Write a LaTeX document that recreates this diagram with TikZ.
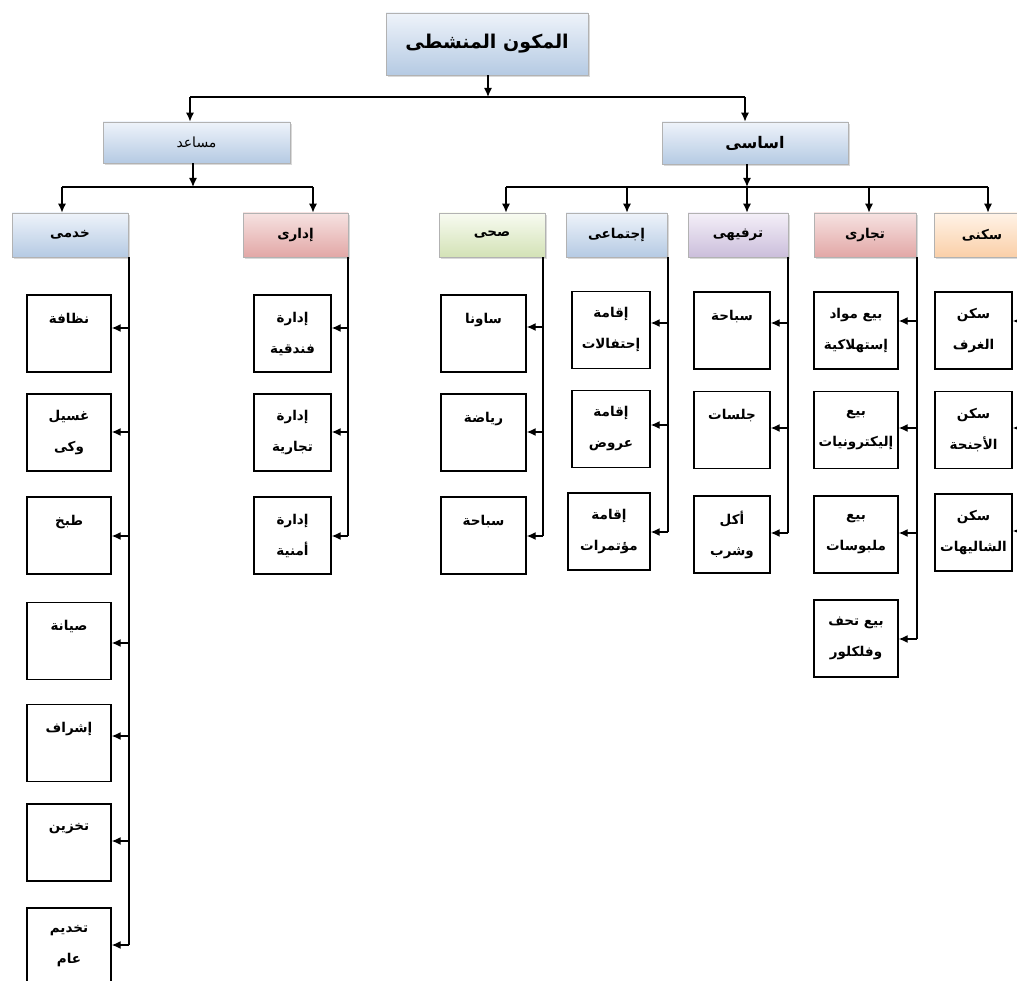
\documentclass[tikz,border=0pt]{standalone}
\usepackage{fontspec}
\newfontfamily\arabicfont[Script=Arabic]{DejaVu Sans}
\TeXXeTstate=1
\usetikzlibrary{arrows.meta,shadows}
\newcommand\artxt[1]{\beginR#1\endR}
\definecolor{blueT}{HTML}{EEF3FA}\definecolor{blueB}{HTML}{B5CAE3}
\definecolor{redT}{HTML}{F6E2E1}\definecolor{redB}{HTML}{E2A7A6}
\definecolor{greenT}{HTML}{F8FBF1}\definecolor{greenB}{HTML}{D3E2B6}
\definecolor{purpT}{HTML}{F4EFF8}\definecolor{purpB}{HTML}{CBBEDB}
\definecolor{orT}{HTML}{FFF3E7}\definecolor{orB}{HTML}{FACFA8}
\tikzset{
  cat/.style={draw=black!30, line width=0.6pt, minimum height=44pt, inner sep=0pt,
    font=\arabicfont\bfseries\fontsize{13.5}{16}\selectfont,
    drop shadow={shadow xshift=1.5pt,shadow yshift=-2.5pt,opacity=0.3}},
  catblue/.style={cat, top color=blueT, bottom color=blueB},
  catred/.style={cat, top color=redT, bottom color=redB},
  catgreen/.style={cat, top color=greenT, bottom color=greenB},
  catpurp/.style={cat, top color=purpT, bottom color=purpB},
  catorange/.style={cat, top color=orT, bottom color=orB},
  kid/.style={draw, line width=1.4pt, minimum height=77pt, inner sep=0pt, align=center,
    font=\arabicfont\bfseries\fontsize{13.5}{31}\selectfont},
  arr/.style={line width=1.4pt, -{Latex[length=9pt,width=8pt]}},
  ln/.style={line width=1.4pt}
}
\begin{document}
\begin{tikzpicture}[x=1pt,y=-1pt]
\useasboundingbox (0,0) rectangle (1017,981);
% level 0-1
\node[catblue,minimum width=202pt,minimum height=62pt,font=\arabicfont\bfseries\fontsize{19}{24}\selectfont] (top) at (487,44) {\artxt{المكون المنشطى}};
\node[catblue,minimum width=187pt,minimum height=41pt,font=\arabicfont\fontsize{14}{16}\selectfont] (mus) at (196.5,142.5) {\artxt{مساعد}};
\node[catblue,minimum width=186pt,minimum height=42pt,font=\arabicfont\bfseries\fontsize{16}{18}\selectfont] (asa) at (755,143) {\artxt{اساسى}};
% categories
\node[catblue,minimum width=116pt] (khd) at (70,235) {\artxt{خدمى}};
\node[catred,minimum width=105pt] (idr) at (295.5,235) {\artxt{إدارى}};
\node[catgreen,minimum width=106pt] (sih) at (492,235) {\artxt{صحى}};
\node[catblue,minimum width=101pt] (ijt) at (616.5,235) {\artxt{إجتماعى}};
\node[catpurp,minimum width=100pt] (trf) at (738,235) {\artxt{ترفيهى}};
\node[catred,minimum width=102pt] (tij) at (865,235) {\artxt{تجارى}};
\node[catorange,minimum width=95pt] (skn) at (982,235) {\artxt{سكنى}};
% connectors top
\coordinate (jn0) at (488,97);
\draw[arr] (top.south -| jn0) -- (jn0);
\draw[ln] (jn0 -| 190,0) -- (jn0 -| 745,0);
\draw[arr] (jn0 -| 190,0) -- (mus.north -| 190,0);
\draw[arr] (jn0 -| 745,0) -- (asa.north -| 745,0);
\coordinate (jn1) at (193,187);
\draw[arr] (mus.south -| jn1) -- (jn1);
\draw[ln] (jn1 -| 62,0) -- (jn1 -| 313,0);
\draw[arr] (jn1 -| 62,0) -- (khd.north -| 62,0);
\draw[arr] (jn1 -| 313,0) -- (idr.north -| 313,0);
\coordinate (jn2) at (747,187);
\draw[arr] (asa.south -| jn2) -- (jn2);
\draw[ln] (jn2 -| 506,0) -- (jn2 -| 988,0);
\draw[arr] (jn2 -| 506,0) -- (sih.north -| 506,0);
\draw[arr] (jn2 -| 627,0) -- (ijt.north -| 627,0);
\draw[arr] (jn2 -| 747,0) -- (trf.north -| 747,0);
\draw[arr] (jn2 -| 869,0) -- (tij.north -| 869,0);
\draw[arr] (jn2 -| 988,0) -- (skn.north -| 988,0);
% khadami children
\node[kid,minimum width=84pt] (k1) at (69,333.5) {\artxt{نظافة}\\\mbox{}};
\node[kid,minimum width=84pt] (k2) at (69,432.5) {\artxt{غسيل}\\\artxt{وكى}};
\node[kid,minimum width=84pt] (k3) at (69,535.5) {\artxt{طبخ}\\\mbox{}};
\node[kid,minimum width=84pt] (k4) at (69,641) {\artxt{صيانة}\\\mbox{}};
\node[kid,minimum width=84pt] (k5) at (69,743) {\artxt{إشراف}\\\mbox{}};
\node[kid,minimum width=84pt] (k6) at (69,842.5) {\artxt{تخزين}\\\mbox{}};
\node[kid,minimum width=84pt] (k7) at (69,946.5) {\artxt{تخديم}\\\artxt{عام}};
\draw[ln] (khd.south -| 129,0) -- (129,945);
\foreach \n/\ay in {k1/328,k2/432,k3/536,k4/643,k5/736,k6/841,k7/945}
  \draw[arr] (129,\ay) -- (\n.east |- 0,\ay);
% idari children
\node[kid,minimum width=77pt] (d1) at (292.5,333.5) {\artxt{إدارة}\\\artxt{فندقية}};
\node[kid,minimum width=77pt] (d2) at (292.5,432.5) {\artxt{إدارة}\\\artxt{تجارية}};
\node[kid,minimum width=77pt] (d3) at (292.5,535.5) {\artxt{إدارة}\\\artxt{أمنية}};
\draw[ln] (idr.south -| 348,0) -- (348,536);
\foreach \n/\ay in {d1/328,d2/432,d3/536}
  \draw[arr] (348,\ay) -- (\n.east |- 0,\ay);
% sihi children
\node[kid,minimum width=85pt] (s1) at (483.5,333.5) {\artxt{ساونا}\\\mbox{}};
\node[kid,minimum width=85pt] (s2) at (483.5,432.5) {\artxt{رياضة}\\\mbox{}};
\node[kid,minimum width=85pt] (s3) at (483.5,535.5) {\artxt{سباحة}\\\mbox{}};
\draw[ln] (sih.south -| 543,0) -- (543,536);
\foreach \n/\ay in {s1/327,s2/432,s3/536}
  \draw[arr] (543,\ay) -- (\n.east |- 0,\ay);
% ijtimai children
\node[kid,minimum width=78pt] (e1) at (611,330) {\artxt{إقامة}\\\artxt{إحتفالات}};
\node[kid,minimum width=78pt] (e2) at (611,429) {\artxt{إقامة}\\\artxt{عروض}};
\node[kid,minimum width=82pt] (e3) at (609,531.5) {\artxt{إقامة}\\\artxt{مؤتمرات}};
\draw[ln] (ijt.south -| 668,0) -- (668,532);
\foreach \n/\ay in {e1/323,e2/425,e3/532}
  \draw[arr] (668,\ay) -- (\n.east |- 0,\ay);
% tarfihi children
\node[kid,minimum width=76pt] (t1) at (732,330.5) {\artxt{سباحة}\\\mbox{}};
\node[kid,minimum width=76pt] (t2) at (732,430) {\artxt{جلسات}\\\mbox{}};
\node[kid,minimum width=76pt] (t3) at (732,534.5) {\artxt{أكل}\\\artxt{وشرب}};
\draw[ln] (trf.south -| 788,0) -- (788,533);
\foreach \n/\ay in {t1/323,t2/428,t3/533}
  \draw[arr] (788,\ay) -- (\n.east |- 0,\ay);
% tijari children
\node[kid,minimum width=84pt] (b1) at (856,330.5) {\artxt{بيع مواد}\\\artxt{إستهلاكية}};
\node[kid,minimum width=84pt] (b2) at (856,430) {\artxt{بيع}\\\artxt{إليكترونيات}};
\node[kid,minimum width=84pt] (b3) at (856,534.5) {\artxt{بيع}\\\artxt{ملبوسات}};
\node[kid,minimum width=84pt] (b4) at (856,638.5) {\artxt{بيع تحف}\\\artxt{وفلكلور}};
\draw[ln] (tij.south -| 917,0) -- (917,639);
\foreach \n/\ay in {b1/321,b2/428,b3/533,b4/639}
  \draw[arr] (917,\ay) -- (\n.east |- 0,\ay);
% sakani children
\node[kid,minimum width=77pt] (h1) at (973.5,330.5) {\artxt{سكن}\\\artxt{الغرف}};
\node[kid,minimum width=77pt] (h2) at (973.5,430) {\artxt{سكن}\\\artxt{الأجنحة}};
\node[kid,minimum width=77pt] (h3) at (973.5,532.5) {\artxt{سكن}\\\artxt{الشاليهات}};
\draw[ln] (skn.south -| 1022,0) -- (1022,531);
\foreach \n/\ay in {h1/321,h2/428,h3/531}
  \draw[arr] (1022,\ay) -- (\n.east |- 0,\ay);
\end{tikzpicture}
\end{document}
